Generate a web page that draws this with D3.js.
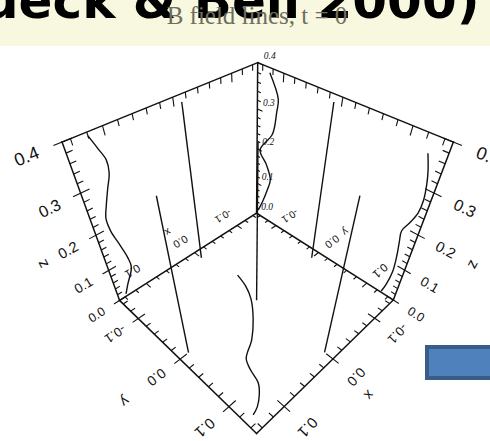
<!DOCTYPE html>
<html>
<head>
<meta charset="utf-8">
<script src="https://cdn.jsdelivr.net/npm/d3@7"></script>
<style>
  html, body { margin: 0; padding: 0; background: #fff; }
  svg { display: block; }
</style>
</head>
<body>
<svg id="chart" width="490" height="441"></svg>
<script>
const W = 490, H = 441;

// ---- text ----
const titleText = "ueck & Bell 2000)";
const subtitleText = "B field lines, t = 0";

// ---- axis domains and ticks ----
const xDomain = [-0.15, 0.15];
const yDomain = [-0.15, 0.15];
const zDomain = [0, 0.4];
const xyTickLabels = [-0.1, 0.0, 0.1];
const zTickLabels = [0.0, 0.1, 0.2, 0.3, 0.4];
const minorStep = 0.02;

// ---- straight field lines: foot points, each runs z = 0 .. 0.4 ----
const straightX = [0.0, 0.0, 0.135, -0.132, 0.0];
const straightY = [0.0, -0.132, 0.0, 0.0, 0.135];

// ---- wavy field lines (samples ordered by height) ----
const leftLineZ = [0.007, 0.033, 0.073, 0.104, 0.149, 0.19, 0.224, 0.252, 0.283, 0.313, 0.339, 0.365, 0.393];
const leftLineX = [0.137, 0.129, 0.116, 0.117, 0.123, 0.129, 0.130, 0.124, 0.116, 0.108, 0.107, 0.113, 0.120];
const leftLineY = [-0.15, -0.15, -0.15, -0.15, -0.15, -0.15, -0.15, -0.15, -0.15, -0.15, -0.15, -0.15, -0.15];

const rightLineZ = [0.004, 0.032, 0.078, 0.126, 0.161, 0.19, 0.217, 0.246, 0.277, 0.31, 0.335, 0.365];
const rightLineX = [-0.15, -0.15, -0.15, -0.15, -0.15, -0.15, -0.15, -0.15, -0.15, -0.15, -0.15, -0.15];
const rightLineY = [0.127, 0.131, 0.134, 0.132, 0.129, 0.127, 0.134, 0.140, 0.141, 0.138, 0.134, 0.127];

const backLineZ = [0.014, 0.052, 0.099, 0.133, 0.17, 0.201, 0.257, 0.313, 0.343, 0.39];
const backLineX = [-0.15, -0.15, -0.15, -0.15, -0.15, -0.15, -0.15, -0.15, -0.15, -0.15];
const backLineY = [-0.146, -0.135, -0.124, -0.118, -0.128, -0.143, -0.117, -0.110, -0.108, -0.126];

const frontLineZ = [0.009, 0.042, 0.089, 0.129, 0.171, 0.204, 0.254, 0.303, 0.346, 0.37, 0.39];
const frontLineX = [0.138, 0.1345, 0.133, 0.134, 0.140, 0.143, 0.139, 0.138, 0.1394, 0.1424, 0.1469];
const frontLineY = [0.132, 0.1355, 0.137, 0.136, 0.130, 0.127, 0.131, 0.132, 0.1307, 0.1277, 0.1232];

// ---- camera: screen anchors of the box corners (unit-box coords -> px) ----
const cameraAnchors = [
  { box: [0, 0, 0], at: [256, 214] },
  { box: [1, 0, 0], at: [120, 300] },
  { box: [0, 1, 0], at: [394, 299] },
  { box: [1, 1, 0], at: [256, 434] },
  { box: [0, 0, 1], at: [258, 62] },
  { box: [1, 0, 1], at: [62, 142] },
  { box: [0, 1, 1], at: [453, 143] }
];

// least-squares fit of a 3x4 perspective matrix (last entry fixed to 1)
function fitCamera(anchors) {
  const A = [], b = [];
  anchors.forEach(({ box: [u, v, w], at: [x, y] }) => {
    A.push([u, v, w, 1, 0, 0, 0, 0, -x * u, -x * v, -x * w]); b.push(x);
    A.push([0, 0, 0, 0, u, v, w, 1, -y * u, -y * v, -y * w]); b.push(y);
  });
  const n = 11;
  const M = [];
  for (let i = 0; i < n; i++) {
    const row = new Array(n + 1).fill(0);
    for (let j = 0; j < n; j++) for (let k = 0; k < A.length; k++) row[j] += A[k][i] * A[k][j];
    for (let k = 0; k < A.length; k++) row[n] += A[k][i] * b[k];
    M.push(row);
  }
  for (let c = 0; c < n; c++) {
    let p = c;
    for (let r = c + 1; r < n; r++) if (Math.abs(M[r][c]) > Math.abs(M[p][c])) p = r;
    [M[c], M[p]] = [M[p], M[c]];
    for (let r = 0; r < n; r++) {
      if (r === c) continue;
      const f = M[r][c] / M[c][c];
      for (let k = c; k <= n; k++) M[r][k] -= f * M[c][k];
    }
  }
  return M.map((row, i) => row[n] / row[i]);
}
const cam = fitCamera(cameraAnchors);

const sx = d3.scaleLinear().domain(xDomain).range([0, 1]);
const sy = d3.scaleLinear().domain(yDomain).range([0, 1]);
const sz = d3.scaleLinear().domain(zDomain).range([0, 1]);

function project(x, y, z) {
  const u = sx(x), v = sy(y), w = sz(z);
  const X = cam[0] * u + cam[1] * v + cam[2] * w + cam[3];
  const Y = cam[4] * u + cam[5] * v + cam[6] * w + cam[7];
  const D = cam[8] * u + cam[9] * v + cam[10] * w + 1;
  return [X / D, Y / D, D];
}
function angleOf(p, d) {
  const a = project(p[0], p[1], p[2]);
  const e = 0.01;
  const q = project(p[0] + d[0] * e, p[1] + d[1] * e, p[2] + d[2] * e);
  return Math.atan2(q[1] - a[1], q[0] - a[0]) * 180 / Math.PI;
}

const fmt = d3.formatLocale({ decimal: ".", thousands: ",", grouping: [3], currency: ["", ""], minus: "-" }).format(".1f");

const svg = d3.select("#chart");
const ink = "#111";

// ---- header band ----
svg.append("rect").attr("x", 0).attr("y", 0).attr("width", W).attr("height", 46).attr("fill", "#f8f8e0");
svg.append("text")
  .attr("x", -17).attr("y", 18)
  .attr("font-family", "DejaVu Sans").attr("font-weight", "bold").attr("font-size", 50)
  .attr("fill", "#000").text(titleText);
svg.append("text")
  .attr("x", 257).attr("y", 24).attr("text-anchor", "middle")
  .attr("font-family", "Liberation Serif").attr("font-size", 25)
  .attr("fill", "#6e6e60").text(subtitleText);

// ---- box edges ----
const x0 = xDomain[0], x1 = xDomain[1], y0 = yDomain[0], y1 = yDomain[1], z0 = zDomain[0], z1 = zDomain[1];
const edges = [
  [[x0, y0, z0], [x0, y0, z1]],
  [[x0, y0, z1], [x1, y0, z1]],
  [[x0, y0, z1], [x0, y1, z1]],
  [[x1, y0, z1], [x1, y0, z0]],
  [[x0, y1, z1], [x0, y1, z0]],
  [[x0, y0, z0], [x1, y0, z0]],
  [[x0, y0, z0], [x0, y1, z0]],
  [[x1, y0, z0], [x1, y1, z0]],
  [[x0, y1, z0], [x1, y1, z0]]
];
const gAxes = svg.append("g").attr("stroke", ink).attr("stroke-width", 1.5).attr("fill", "none").attr("stroke-linecap", "square");
const line2 = d3.line();
edges.forEach(([a, b]) => {
  gAxes.append("path").attr("d", line2([project(...a), project(...b)].map(p => [p[0], p[1]])));
});

// ---- ticks ----
const gTicks = svg.append("g").attr("stroke", ink).attr("stroke-width", 1.1).attr("fill", "none");
const isMajor = t => Math.abs(t * 10 - Math.round(t * 10)) < 1e-6;
const xyMinor = d3.range(-0.14, 0.1401, minorStep).map(t => +t.toFixed(3));
const zMinor = d3.range(0, 0.4001, minorStep).map(t => +t.toFixed(3));
function tick(p, dir, lenIn, lenOut) {
  const a = project(p[0] - dir[0] * lenOut, p[1] - dir[1] * lenOut, p[2] - dir[2] * lenOut);
  const b = project(p[0] + dir[0] * lenIn, p[1] + dir[1] * lenIn, p[2] + dir[2] * lenIn);
  gTicks.append("path").attr("d", line2([[a[0], a[1]], [b[0], b[1]]]));
}
// vertical edges
zMinor.forEach(z => {
  const M = isMajor(z);
  tick([x1, y0, z], [-1, 0, 0], M ? 0.012 : 0.008, M ? 0.01 : 0);
  tick([x0, y1, z], [0, -1, 0], M ? 0.012 : 0.008, M ? 0.01 : 0);
  tick([x0, y0, z], [0, 1, 0], M ? 0.011 : 0.007, 0);
});
// top edges and floor edges
xyMinor.forEach(t => {
  const M = isMajor(t);
  tick([t, y0, z1], [0, 0, -1], M ? 0.018 : 0.012, 0);
  tick([x0, t, z1], [0, 0, -1], M ? 0.018 : 0.012, 0);
  tick([t, y0, z0], [0, 1, 0], M ? 0.012 : 0.008, 0);
  tick([x0, t, z0], [1, 0, 0], M ? 0.012 : 0.008, 0);
  tick([x1, t, z0], [-1, 0, 0], M ? 0.012 : 0.008, M ? 0.01 : 0);
  tick([t, y1, z0], [0, -1, 0], M ? 0.012 : 0.008, M ? 0.01 : 0);
});

// ---- labels ----
const gLab = svg.append("g").attr("fill", ink).attr("font-family", "Liberation Sans");
function label(p, txt, dir, sizeK) {
  const q = project(p[0], p[1], p[2]);
  const ang = angleOf(p, dir);
  gLab.append("text")
    .attr("transform", `translate(${q[0]},${q[1]}) rotate(${ang})`)
    .attr("text-anchor", "middle").attr("dominant-baseline", "central")
    .attr("font-size", (sizeK / q[2]).toFixed(2))
    .text(txt);
}
const labK = 10;
xyTickLabels.forEach(t => {
  label([t, y0 - 0.038, z0], fmt(t), [1, 0, 0], labK);   // back-left floor edge (x)
  label([x0 - 0.038, t, z0], fmt(t), [1, 0, 0], labK);   // back-right floor edge (y)
  label([x1 + 0.04, t, z0], fmt(t), [1, 0, 0], labK);    // front-left floor edge (y)
  label([t, y1 + 0.04, z0], fmt(t), [1, 0, 0], labK);    // front-right floor edge (x)
});
zTickLabels.forEach(z => {
  label([x1 + 0.04, y0, z], fmt(z), [-1, 0, 0], labK);
  label([x0, y1 + 0.04, z], fmt(z), [0, 1, 0], labK);
});
label([0.0, y0 - 0.075, z0], "x", [1, 0, 0], labK);
label([x0 - 0.075, 0.0, z0], "y", [1, 0, 0], labK);
label([x1 + 0.09, 0.0, z0], "y", [1, 0, 0], labK);
label([0.01, y1 + 0.068, z0], "x", [1, 0, 0], labK);
label([x1 + 0.075, y0, 0.2], "z", [0, 0, 1], labK);
label([x0, y1 + 0.075, 0.2], "z", [0, 0, 1], labK);

// small labels on the back vertical edge
zTickLabels.forEach(z => {
  const q = project(x0, y0 + 0.012, z);
  svg.append("text")
    .attr("x", q[0]).attr("y", q[1] - 6)
    .attr("font-family", "Liberation Serif").attr("font-style", "italic").attr("font-size", 9.5)
    .attr("fill", ink).text(fmt(z));
});

// ---- field lines ----
const gLines = svg.append("g").attr("stroke", ink).attr("stroke-width", 1.4).attr("fill", "none");
straightX.forEach((x, i) => {
  const a = project(x, straightY[i], z0), b = project(x, straightY[i], z1);
  gLines.append("path").attr("d", line2([[a[0], a[1]], [b[0], b[1]]]));
});
const curve = d3.line().curve(d3.curveCatmullRom.alpha(0.5));
[[leftLineX, leftLineY, leftLineZ], [rightLineX, rightLineY, rightLineZ],
 [backLineX, backLineY, backLineZ], [frontLineX, frontLineY, frontLineZ]].forEach(([xs, ys, zs]) => {
  const pts = zs.map((z, i) => { const q = project(xs[i], ys[i], z); return [q[0], q[1]]; });
  gLines.append("path").attr("d", curve(pts));
});

// ---- blue box ----
svg.append("rect").attr("x", 427).attr("y", 347).attr("width", 70).attr("height", 31)
  .attr("fill", "#4f81bd").attr("stroke", "#385d8a").attr("stroke-width", 4);
</script>
</body>
</html>
